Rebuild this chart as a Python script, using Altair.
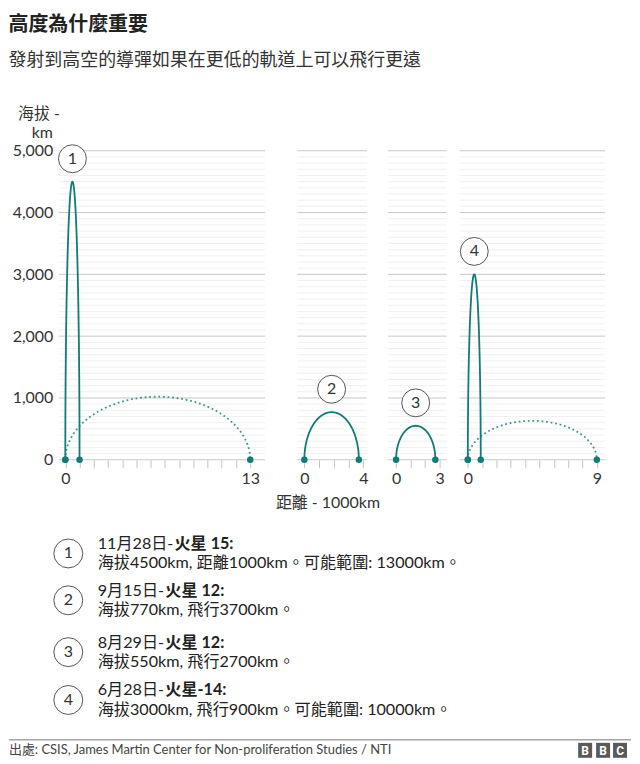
import altair as alt
import pandas as pd

# ---------------- data ----------------
panel_ids = [1, 2, 3, 4]
axis_max = [13, 4, 3, 9]                 # x axis end label (1000 km)
solid_range = [1.0, 3.7, 2.7, 0.9]       # flown distance (1000 km)
solid_apex = [4500, 770, 550, 3000]      # apogee (km)
dotted_panels = [1, 4]
dotted_range = [13.0, 9.0]               # possible range (1000 km)
dotted_apex = [1020, 630]                # flattened trajectory apogee (km)
y_ticks = [0, 1000, 2000, 3000, 4000, 5000]

title_text = "高度為什麼重要"
subtitle_text = "發射到高空的導彈如果在更低的軌道上可以飛行更遠"
y_title = ["海拔 -", "km"]
x_title = "距離 - 1000km"
note_dates = ["11月28日-", "9月15日-", "8月29日-", "6月28日-"]
note_missiles = ["火星 15:", "火星 12:", "火星 12:", "火星-14:"]
note_details = [
    "海拔4500km, 距離1000km。可能範圍: 13000km。",
    "海拔770km, 飛行3700km。",
    "海拔550km, 飛行2700km。",
    "海拔3000km, 飛行900km。可能範圍: 10000km。",
]
source_text = "出處: CSIS, James Martin Center for Non-proliferation Studies / NTI"
logo_letters = ["B", "B", "C"]

# ---------------- styling / layout ----------------
FONT = "Lato, 'Noto Sans CJK TC', sans-serif"
TEAL = "#117b76"
H = 310
NOTE_FS = 16.2
# per panel: cell width, px offset of 0, px per unit, px offset of visible start
layout = [
    dict(W=207, zero=6.5, unit=14.27, vis=0.0),
    dict(W=102, zero=39.3, unit=14.78, vis=32.3),
    dict(W=80, zero=29.3, unit=14.6, vis=21.3),
    dict(W=159, zero=21.3, unit=14.38, vis=13.0),
]

rows = []
for p, r, a in zip(panel_ids, solid_range, solid_apex):
    rows.append(dict(panel=p, kind="solid", start=0.0, end=r, apex=a))
for p, r, a in zip(dotted_panels, dotted_range, dotted_apex):
    rows.append(dict(panel=p, kind="dotted", start=0.0, end=r, apex=a))
traj = pd.DataFrame(rows)

grid_major = pd.DataFrame({"y": y_ticks})
grid_minor = pd.DataFrame({"y": [v for v in range(100, 5000, 100) if v % 1000 != 0]})
yscale = alt.Scale(domain=[0, 5000], nice=False, zero=True)


def panel(i):
    p = panel_ids[i]
    N = axis_max[i]
    L = layout[i]
    dmin = -L["zero"] / L["unit"]
    dmax = (L["W"] - L["zero"]) / L["unit"]
    vis0 = (L["vis"] - L["zero"]) / L["unit"]
    xscale = alt.Scale(domain=[dmin, dmax], nice=False, zero=False)
    xaxis = alt.Axis(
        values=list(range(N + 1)),
        labelExpr=f"(datum.value == 0 || datum.value == {N}) ? datum.label : ''",
        domain=False, grid=False, ticks=True, tickSize=8, tickColor="#c4c4c4",
        labelFontSize=16, labelColor="#333333", labelPadding=3, title=None,
        labelOverlap=False, labelFlush=False,
    )
    if i == 0:
        yaxis = alt.Axis(
            values=y_ticks, format=",.0f", domain=False, ticks=False, grid=False,
            labelFontSize=16, labelColor="#333333", labelPadding=6, title=None,
        )
    else:
        yaxis = None

    def X(f):
        return alt.X(f, type="quantitative", scale=xscale, axis=xaxis)

    def Y(f):
        return alt.Y(f, type="quantitative", scale=yscale, axis=yaxis)

    grid_calc = dict(x0=f"{vis0}", x1=f"{dmax}")
    minor = alt.Chart(grid_minor).transform_calculate(**grid_calc).mark_rule(
        color="#f0f0f0", strokeWidth=1
    ).encode(x=X("x0"), x2="x1:Q", y=Y("y"))
    major = alt.Chart(grid_major).transform_calculate(**grid_calc).mark_rule(
        color="#c8c8c8", strokeWidth=1
    ).encode(x=X("x0"), x2="x1:Q", y=Y("y"))

    def arc(kind):
        return (
            alt.Chart(traj)
            .transform_filter(f"datum.panel == {p} && datum.kind == '{kind}'")
            .transform_calculate(t="sequence(0, 181, 1)")
            .transform_flatten(["t"])
            .transform_calculate(
                xv="datum.start + (datum.end - datum.start) * (1 - cos(datum.t * PI / 180)) / 2",
                yv="datum.apex * sin(datum.t * PI / 180)",
            )
        )

    layers = [minor, major]
    if p in dotted_panels:
        layers.append(
            arc("dotted").mark_line(
                color=TEAL, strokeWidth=1.8, strokeDash=[1.8, 2.8], opacity=0.8
            ).encode(x=X("xv"), y=Y("yv"), order="t:Q")
        )
    layers.append(
        arc("solid").mark_line(color=TEAL, strokeWidth=1.8).encode(
            x=X("xv"), y=Y("yv"), order="t:Q"
        )
    )
    dots = (
        alt.Chart(traj)
        .transform_filter(f"datum.panel == {p}")
        .transform_fold(["start", "end"], as_=["which", "xv"])
        .transform_calculate(yv="0")
        .mark_circle(color=TEAL, size=42, opacity=1)
        .encode(x=X("xv"), y=Y("yv"))
    )
    layers.append(dots)
    lab = (
        alt.Chart(traj)
        .transform_filter(f"datum.panel == {p} && datum.kind == 'solid'")
        .transform_calculate(mx="(datum.start + datum.end) / 2")
    )
    layers.append(
        lab.mark_point(shape="circle", size=784, filled=True, fill="white",
                       stroke="#555555", strokeWidth=1, opacity=1, yOffset=-23)
        .encode(x=X("mx"), y=Y("apex"))
    )
    layers.append(
        lab.mark_text(fontSize=16, color="#333333", yOffset=-23, baseline="middle")
        .encode(x=X("mx"), y=Y("apex"), text="panel:N")
    )

    if i == 0:
        one = pd.DataFrame({"k": [0]})
        # y-axis title
        layers.append(alt.Chart(pd.DataFrame({"t": [y_title[0]]})).mark_text(
            fontSize=16, color="#333333", align="right", baseline="middle"
        ).encode(text="t:N", x=alt.value(1), y=alt.value(-37)))
        layers.append(alt.Chart(pd.DataFrame({"t": [y_title[1]]})).mark_text(
            fontSize=16, color="#333333", align="right", baseline="middle"
        ).encode(text="t:N", x=alt.value(-6), y=alt.value(-18)))
        # x-axis title
        layers.append(alt.Chart(pd.DataFrame({"t": [x_title]})).mark_text(
            fontSize=16, color="#333333", align="center", baseline="middle"
        ).encode(text="t:N", x=alt.value(270), y=alt.value(353)))
        # notes
        circ_y = [404, 451, 503, 551]
        half = 9.6
        bold_x = [116, 106.8, 106.8, 106.8]
        for k in range(4):
            l1 = circ_y[k] - half
            l2 = circ_y[k] + half
            layers.append(alt.Chart(pd.DataFrame({"n": [panel_ids[k]]})).mark_point(
                shape="circle", size=841, filled=True, fill="white", stroke="#555555",
                strokeWidth=1, opacity=1
            ).encode(x=alt.value(9.5), y=alt.value(circ_y[k])))
            layers.append(alt.Chart(pd.DataFrame({"n": [panel_ids[k]]})).mark_text(
                fontSize=16, color="#333333", baseline="middle"
            ).encode(text="n:N", x=alt.value(9.5), y=alt.value(circ_y[k])))
            layers.append(alt.Chart(pd.DataFrame({"t": [note_dates[k]]})).mark_text(
                fontSize=NOTE_FS, color="#222222", align="left", baseline="middle"
            ).encode(text="t:N", x=alt.value(39), y=alt.value(l1)))
            layers.append(alt.Chart(pd.DataFrame({"t": [note_missiles[k]]})).mark_text(
                fontSize=NOTE_FS, color="#222222", align="left", baseline="middle",
                fontWeight="bold"
            ).encode(text="t:N", x=alt.value(bold_x[k]), y=alt.value(l1)))
            layers.append(alt.Chart(pd.DataFrame({"t": [note_details[k]]})).mark_text(
                fontSize=NOTE_FS, color="#222222", align="left", baseline="middle"
            ).encode(text="t:N", x=alt.value(39), y=alt.value(l2)))
        # footer
        layers.append(alt.Chart(one).mark_rule(color="#777777", strokeWidth=1).encode(
            x=alt.value(-50), x2=alt.value(574), y=alt.value(591)))
        layers.append(alt.Chart(pd.DataFrame({"t": [source_text]})).mark_text(
            fontSize=13, color="#444444", align="left", baseline="middle"
        ).encode(text="t:N", x=alt.value(-50), y=alt.value(601.5)))
        logo_x = [521, 539, 556]
        for k, ch in enumerate(logo_letters):
            layers.append(alt.Chart(one).mark_rect(color="#5a5a5a").encode(
                x=alt.value(logo_x[k]), x2=alt.value(logo_x[k] + 14),
                y=alt.value(594), y2=alt.value(609)))
            layers.append(alt.Chart(pd.DataFrame({"t": [ch]})).mark_text(
                fontSize=12, color="white", fontWeight="bold", baseline="middle",
                font="Roboto"
            ).encode(text="t:N", x=alt.value(logo_x[k] + 7), y=alt.value(601.8)))

    return alt.layer(*layers).properties(width=L["W"], height=H)


chart = (
    alt.hconcat(*[panel(i) for i in range(4)], spacing=0, bounds="flush")
    .properties(
        title=alt.TitleParams(
            text=title_text, subtitle=subtitle_text, anchor="start", frame="bounds",
            fontSize=20, fontWeight="bold", color="#222222",
            subtitleFontSize=18, subtitleColor="#333333", subtitlePadding=17,
            offset=36, font=FONT, subtitleFont=FONT,
        )
    )
    .configure(font=FONT, padding={"top": 6, "left": 0, "right": 0, "bottom": 0})
    .configure_view(stroke=None)
)

chart.save("out.html", embed_options={"renderer": "svg", "actions": False})
